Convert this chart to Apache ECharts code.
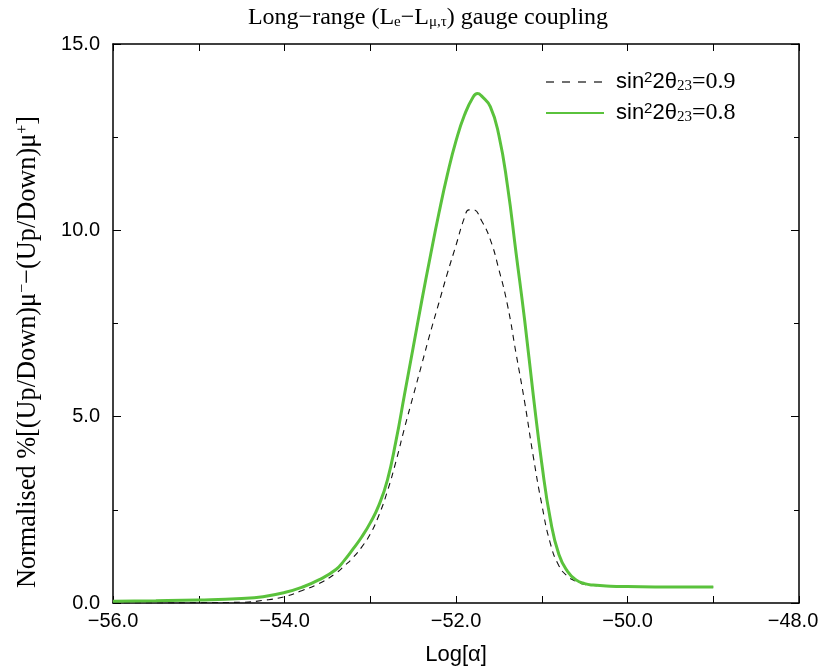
<!DOCTYPE html>
<html>
<head>
<meta charset="utf-8">
<script src="https://cdn.jsdelivr.net/npm/echarts@6/dist/echarts.min.js"></script>
<style>html,body{margin:0;padding:0;background:#fff;}#c{width:819px;height:669px;}</style>
</head>
<body>
<div id="c"></div>
<script>
// sin^2 2θ23 = 0.9 (dashed)
var xDash = [-56.0, -55.5, -55.0, -54.5, -54.25, -54.0, -53.8, -53.6, -53.4, -53.3, -53.2, -53.1, -53.0, -52.9, -52.8, -52.7, -52.6, -52.5, -52.4, -52.3, -52.2, -52.1, -52.0, -51.9, -51.85, -51.8, -51.7, -51.6, -51.5, -51.4, -51.3, -51.2, -51.1, -51.0, -50.9, -50.8, -50.7, -50.6, -50.5, -50.4, -50.2, -50.0, -49.5, -49.0];
var yDash = [0.0, 0.0, 0.01, 0.02, 0.07, 0.17, 0.33, 0.52, 0.8, 1.0, 1.22, 1.5, 1.85, 2.35, 3.0, 3.8, 4.7, 5.55, 6.4, 7.25, 8.05, 8.85, 9.6, 10.35, 10.55, 10.55, 10.25, 9.75, 8.95, 8.0, 6.7, 5.4, 3.95, 2.65, 1.6, 1.0, 0.72, 0.58, 0.5, 0.47, 0.45, 0.44, 0.43, 0.43];
// sin^2 2θ23 = 0.8 (green)
var xGreen = [-56.0, -55.5, -55.0, -54.5, -54.25, -54.0, -53.8, -53.6, -53.4, -53.3, -53.2, -53.1, -53.0, -52.9, -52.8, -52.7, -52.6, -52.5, -52.4, -52.3, -52.2, -52.1, -52.0, -51.9, -51.8, -51.75, -51.7, -51.6, -51.5, -51.4, -51.3, -51.2, -51.1, -51.0, -50.9, -50.8, -50.7, -50.6, -50.5, -50.4, -50.2, -50.0, -49.5, -49.0];
var yGreen = [0.05, 0.06, 0.08, 0.12, 0.17, 0.28, 0.42, 0.62, 0.9, 1.15, 1.45, 1.77, 2.15, 2.62, 3.3, 4.35, 5.6, 6.85, 8.1, 9.3, 10.45, 11.5, 12.4, 13.1, 13.58, 13.67, 13.6, 13.32, 12.55, 11.2, 9.4, 7.6, 5.6, 3.75, 2.25, 1.3, 0.85, 0.62, 0.52, 0.48, 0.45, 0.44, 0.43, 0.43];
var seriesNames = ['s09', 's08'];
var legendValues = ['=0.9', '=0.8'];

function pairs(xs, ys) { return xs.map(function (x, i) { return [x, ys[i]]; }); }

var chart = echarts.init(document.getElementById('c'), null, {renderer: 'canvas'});
var black = '#000';
var tickFmtX = function (v) {
  if (Math.round(v) % 2 !== 0) return '';
  var s = (v < 0 ? '\u2212' : '') + Math.abs(v).toFixed(1);
  if (v === -48) return '{r|' + s + '}';
  return s;
};
var option = {
  backgroundColor: '#fff',
  animation: false,
  title: {
    text: 'Long\u2212range (L{s|e}\u2212L{s|\u03bc,\u03c4}) gauge coupling',
    left: 423, top: 1, textAlign: 'center',
    textStyle: {
      fontFamily: 'Liberation Serif', fontSize: 24, fontWeight: 'normal', color: black,
      rich: { s: { fontFamily: 'Liberation Serif', fontSize: 15, verticalAlign: 'bottom', lineHeight: 10, color: black } }
    }
  },
  grid: { left: 113, right: 20, top: 44, bottom: 66, containLabel: false, outerBoundsMode: 'none' },
  legend: {
    orient: 'vertical', left: 545, top: 70, padding: 0,
    itemWidth: 58, itemHeight: 14, itemGap: 7,
    data: [
      { name: seriesNames[0], lineStyle: { type: [8, 8], width: 1.2 } },
      { name: seriesNames[1] }
    ],
    itemStyle: { opacity: 0 },
    formatter: function (name) {
      var i = seriesNames.indexOf(name);
      return '{a|sin}{p|2}{a|2\u03b8}{b|23}{c|' + legendValues[i] + '}';
    },
    textStyle: {
      color: black, padding: [0, 0, 0, 7],
      rich: {
        a: { fontFamily: 'Liberation Sans', fontSize: 22, color: black },
        p: { fontFamily: 'Liberation Sans', fontSize: 15, verticalAlign: 'top', lineHeight: 4, color: black },
        b: { fontFamily: 'Liberation Serif', fontSize: 15, verticalAlign: 'bottom', lineHeight: 6, color: black },
        c: { fontFamily: 'Liberation Serif', fontSize: 24, color: black }
      }
    }
  },
  xAxis: [{
    type: 'value', min: -56, max: -48, interval: 1, position: 'bottom',
    name: 'Log[\u03b1]', nameLocation: 'middle', nameGap: 41,
    nameTextStyle: { fontFamily: 'Liberation Sans', fontSize: 22, color: black },
    axisLine: { show: true, onZero: false, lineStyle: { color: black, width: 1.5 } },
    axisTick: { show: true, inside: true, length: 7, lineStyle: { color: black, width: 1 } },
    axisLabel: {
      show: true, margin: 8, formatter: tickFmtX, fontFamily: 'Liberation Sans', fontSize: 20, color: black,
      rich: { r: { fontFamily: 'Liberation Sans', fontSize: 20, color: black, padding: [0, 12, 0, 0] } }
    },
    splitLine: { show: false }
  }, {
    type: 'value', min: -56, max: -48, interval: 1, position: 'top',
    axisLine: { show: true, onZero: false, lineStyle: { color: black, width: 1.5 } },
    axisTick: { show: true, inside: true, length: 7, lineStyle: { color: black, width: 1 } },
    axisLabel: { show: false }, splitLine: { show: false }
  }],
  yAxis: [{
    type: 'value', min: 0, max: 15, interval: 5, position: 'left',
    axisLine: { show: true, onZero: false, lineStyle: { color: black, width: 1.5 } },
    axisTick: { show: true, inside: true, length: 8, lineStyle: { color: black, width: 1 } },
    minorTick: { show: true, splitNumber: 2, length: 5, lineStyle: { color: black, width: 1 } },
    axisLabel: { show: true, margin: 13, formatter: function (v) { return v.toFixed(1); }, fontFamily: 'Liberation Sans', fontSize: 20, color: black },
    splitLine: { show: false }, minorSplitLine: { show: false }
  }, {
    type: 'value', min: 0, max: 15, interval: 5, position: 'right',
    axisLine: { show: true, onZero: false, lineStyle: { color: black, width: 1.5 } },
    axisTick: { show: true, inside: true, length: 8, lineStyle: { color: black, width: 1 } },
    minorTick: { show: true, splitNumber: 2, length: 5, lineStyle: { color: black, width: 1 } },
    axisLabel: { show: false }, splitLine: { show: false }
  }],
  graphic: [{
    type: 'text', x: 28, y: 352, rotation: Math.PI / 2,
    style: {
      text: 'Normalised %[(Up/Down)\u03bc{p|\u2212}\u2212(Up/Down)\u03bc{p|+}]',
      fontFamily: 'Liberation Serif', fontSize: 26.3, fill: black,
      align: 'center', verticalAlign: 'middle',
      rich: { p: { fontFamily: 'Liberation Serif', fontSize: 16, verticalAlign: 'top', lineHeight: 8, fill: black } }
    }
  }],
  series: [{
    name: seriesNames[0], type: 'line', data: pairs(xDash, yDash),
    symbol: 'none', smooth: 0.5, z: 2,
    lineStyle: { color: '#111', width: 1.1, type: [6, 5] },
    itemStyle: { color: '#111' }
  }, {
    name: seriesNames[1], type: 'line', data: pairs(xGreen, yGreen),
    symbol: 'none', smooth: 0.5, z: 3,
    lineStyle: { color: '#5ac23c', width: 3 },
    itemStyle: { color: '#5ac23c' }
  }]
};
chart.setOption(option);
</script>
</body>
</html>
